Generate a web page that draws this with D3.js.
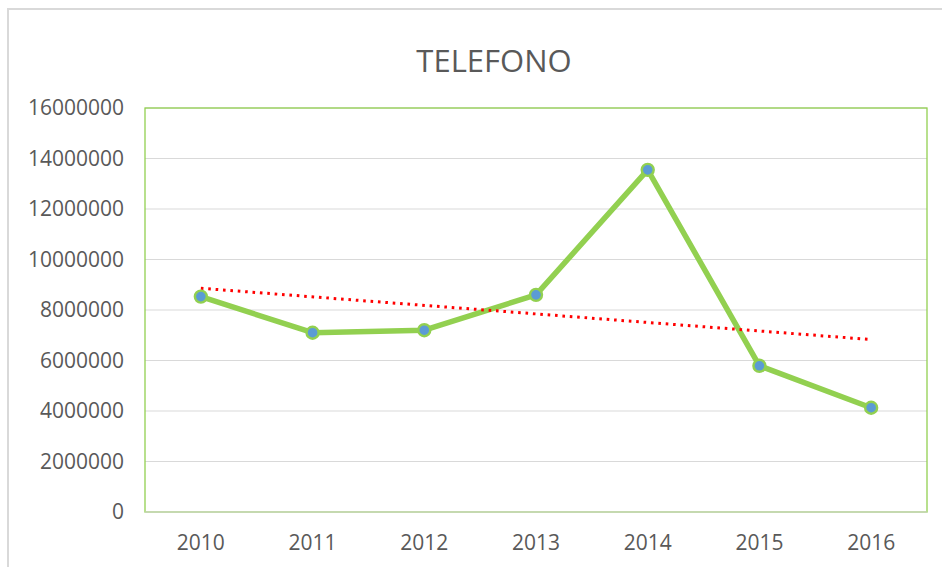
<!DOCTYPE html>
<html>
<head>
  <meta charset="utf-8">
  <script src="https://cdn.jsdelivr.net/npm/d3@7"></script>
  <style>
    body { margin: 0; background: #fff; }
    text { font-family: "Open Sans", sans-serif; fill: #595959; }
  </style>
</head>
<body>
<script>
  "use strict";

  // chart data
  var years = ["2010", "2011", "2012", "2013", "2014", "2015", "2016"];
  var values = [8530000, 7100000, 7200000, 8600000, 13550000, 5790000, 4130000];
  var yTicks = [0, 2000000, 4000000, 6000000, 8000000, 10000000, 12000000, 14000000, 16000000];
  // linear trend line, start and end as drawn
  var trendYears = ["2010", "2016"];
  var trendValues = [8860000, 6830000];

  var width = 942, height = 567;
  var plot = { left: 145, right: 927, top: 108, bottom: 512 };

  var svg = d3.select("body").append("svg")
      .attr("width", width)
      .attr("height", height);

  // outer chart frame (only left/top visible in crop)
  svg.append("rect")
      .attr("x", 8).attr("y", 9)
      .attr("width", 960).attr("height", 600)
      .attr("fill", "none")
      .attr("stroke", "#d9d9d9")
      .attr("stroke-width", 2);

  svg.append("text")
      .attr("x", 494).attr("y", 72)
      .attr("text-anchor", "middle")
      .style("font-size", "31px")
      .text("TELEFONO");

  var x = d3.scaleBand()
      .domain(years)
      .range([plot.left, plot.right]);

  var y = d3.scaleLinear()
      .domain([0, 16000000])
      .range([plot.bottom, plot.top]);

  // gridlines
  svg.append("g")
    .selectAll("line")
    .data(yTicks)
    .enter().append("line")
      .attr("x1", plot.left).attr("x2", plot.right)
      .attr("y1", function (d) { return y(d); })
      .attr("y2", function (d) { return y(d); })
      .attr("stroke", "#d9d9d9")
      .attr("stroke-width", 1);

  // plot area border
  svg.append("rect")
      .attr("x", plot.left).attr("y", plot.top)
      .attr("width", plot.right - plot.left)
      .attr("height", plot.bottom - plot.top)
      .attr("fill", "none")
      .attr("stroke", "#92d050")
      .attr("stroke-width", 1.3);

  // bottom axis line over the border
  svg.append("line")
      .attr("x1", plot.left).attr("x2", plot.right)
      .attr("y1", plot.bottom).attr("y2", plot.bottom)
      .attr("stroke", "#d9d9d9");

  var yAxis = svg.append("g")
      .attr("transform", "translate(" + (plot.left - 21) + ",0)")
      .call(d3.axisLeft(y).tickValues(yTicks).tickSize(0).tickPadding(0)
        .tickFormat(function (d) { return String(d); }));
  yAxis.select(".domain").remove();
  yAxis.selectAll("text")
      .style("font-size", "21px")
      .attr("fill", "#595959");

  var xAxis = svg.append("g")
      .attr("transform", "translate(0," + plot.bottom + ")")
      .call(d3.axisBottom(x).tickSize(0).tickPadding(23));
  xAxis.select(".domain").remove();
  xAxis.selectAll("text")
      .style("font-size", "21px")
      .attr("fill", "#595959");

  var cx = function (d) { return x(d) + x.bandwidth() / 2; };

  // data line
  var line = d3.line()
      .x(function (d, i) { return cx(years[i]); })
      .y(function (d) { return y(d); });

  svg.append("path")
      .datum(values)
      .attr("d", line)
      .attr("fill", "none")
      .attr("stroke", "#92d050")
      .attr("stroke-width", 5.5)
      .attr("stroke-linejoin", "round");

  // trend line
  var trend = d3.line()
      .x(function (d, i) { return cx(trendYears[i]); })
      .y(function (d) { return y(d); });

  svg.append("path")
      .datum(trendValues)
      .attr("d", trend)
      .attr("fill", "none")
      .attr("stroke", "#ff0000")
      .attr("stroke-width", 3)
      .attr("stroke-dasharray", "2.6,4.8");

  // markers
  svg.append("g")
    .selectAll("circle")
    .data(values)
    .enter().append("circle")
      .attr("cx", function (d, i) { return cx(years[i]); })
      .attr("cy", function (d) { return y(d); })
      .attr("r", 6)
      .attr("fill", "#5b9bd5")
      .attr("stroke", "#92d050")
      .attr("stroke-width", 2.4);
</script>
</body>
</html>
